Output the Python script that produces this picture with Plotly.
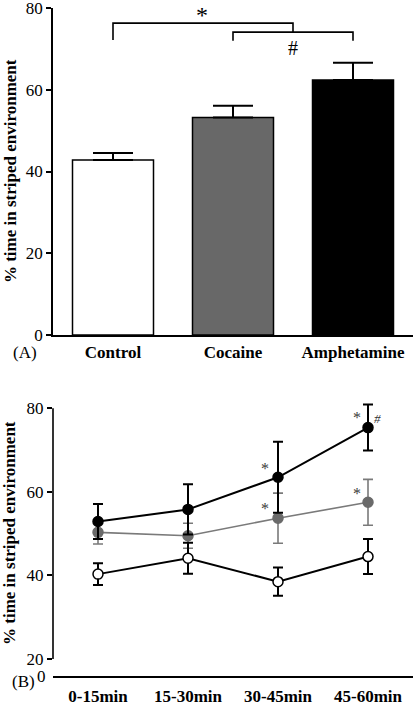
import plotly.graph_objects as go

# ---- Panel A data ----
groups = ["Control", "Cocaine", "Amphetamine"]
pct_mean = [42.8, 53.2, 62.4]
pct_sem = [1.7, 2.9, 4.2]
bar_colors = ["#ffffff", "#686868", "#000000"]

# ---- Panel B data ----
periods = ["0-15min", "15-30min", "30-45min", "45-60min"]
control_mean = [40.3, 44.1, 38.5, 44.5]
control_sem = [2.6, 3.7, 3.4, 4.2]
cocaine_mean = [50.3, 49.5, 53.7, 57.5]
cocaine_sem = [2.8, 3.0, 6.0, 5.5]
amph_mean = [52.9, 55.8, 63.5, 75.4]
amph_sem = [4.2, 6.0, 8.5, 5.5]

yticks_a = [0, 20, 40, 60, 80]
yticks_b = [20, 40, 60, 80]

FONT = "Liberation Serif"
GRAY_LINE = "#7a7a7a"
GRAY_MK = "#6a6a6a"

fig = go.Figure()

# Panel A bars
fig.add_trace(go.Bar(
    x=groups, y=pct_mean, width=0.675,
    marker=dict(color=bar_colors, line=dict(color="black", width=1.5)),
    error_y=dict(type="data", array=pct_sem, arrayminus=[0] * len(pct_sem),
                 symmetric=False, color="black", thickness=2, width=20),
    xaxis="x", yaxis="y", showlegend=False,
))

# Panel B lines
def add_series(mean, sem, line_col, mk_fill, mk_line, lw):
    fig.add_trace(go.Scatter(
        x=periods, y=mean, mode="lines+markers",
        line=dict(color=line_col, width=lw),
        marker=dict(size=10, color=mk_fill, line=dict(color=mk_line, width=1.5)),
        error_y=dict(type="data", array=sem, color=line_col, thickness=lw, width=5),
        xaxis="x2", yaxis="y2", showlegend=False, cliponaxis=False,
    ))

add_series(cocaine_mean, cocaine_sem, GRAY_LINE, GRAY_MK, GRAY_MK, 1.6)
add_series(amph_mean, amph_sem, "black", "black", "black", 2)
add_series(control_mean, control_sem, "black", "white", "black", 2)

# Brackets panel A
brk = dict(type="path", xref="x", yref="y", line=dict(color="black", width=1.6))
fig.add_shape(path="M 0 72.2 L 0 76.3 L 1.5 76.3 L 1.5 74.1", **brk)
fig.add_shape(path="M 1 72.0 L 1 74.1 L 2 74.1 L 2 72.0", **brk)

# y-axis line panel B (broken axis: 20-80)
fig.add_shape(type="line", xref="paper", yref="y2", x0=0, x1=0, y0=20, y1=80,
              line=dict(color="black", width=1.6))

ann = []
ann.append(dict(text="*", x=0.74, y=78.3, xref="x", yref="y", showarrow=False,
                font=dict(family=FONT, size=24, color="black")))
ann.append(dict(text="#", x=1.5, y=70.2, xref="x", yref="y", showarrow=False,
                font=dict(family=FONT, size=20, color="black")))
# panel B stars
for (xx, yy, t) in [
    (1.85, 65.7, "*"),
    (1.85, 55.9, "*"),
    (2.88, 77.7, "*"),
    (2.88, 59.7, "*"),
]:
    ann.append(dict(text=t, x=xx, y=yy, xref="x2", yref="y2", showarrow=False,
                    font=dict(family=FONT, size=16, color="#3a3a3a")))
ann.append(dict(text="<i>#</i>", x=3.1, y=77.6, xref="x2", yref="y2", showarrow=False,
                font=dict(family=FONT, size=13, color="#333333")))
# "0" label of broken axis
ann.append(dict(text="0", x=0, y=15.9, xref="paper", yref="y2", xanchor="right",
                xshift=-5, showarrow=False, font=dict(family=FONT, size=17, color="black")))
# axis titles
for yy in [0.7574, 0.2440]:
    ann.append(dict(text="<b>% time in striped environment</b>", x=-0.1194, y=yy,
                    xref="paper", yref="paper", textangle=-90, showarrow=False,
                    xanchor="center", yanchor="middle",
                    font=dict(family=FONT, size=17, color="black")))
ann.append(dict(text="(A)", x=-0.117, y=0.5007, xref="paper", yref="paper",
                showarrow=False, font=dict(family=FONT, size=17, color="black")))
ann.append(dict(text="(B)", x=-0.119, y=0.017, xref="paper", yref="paper",
                showarrow=False, font=dict(family=FONT, size=17, color="black")))

tickfont = dict(family=FONT, size=17, color="black")
boldfont = dict(family=FONT, size=17, color="black", weight="bold")

common = dict(automargin=False, showgrid=False, zeroline=False,
              ticklabeloverflow="allow")

fig.update_layout(
    width=413, height=705,
    margin=dict(l=53, r=0, t=0, b=0, autoexpand=False),
    paper_bgcolor="white", plot_bgcolor="white",
    font=dict(family=FONT, color="black"),
    annotations=ann,
    xaxis=dict(domain=[0, 1], range=[-0.5, 2.5], anchor="y", showline=True,
               linecolor="black", linewidth=1.6, ticks="",
               tickfont=boldfont, ticklabelstandoff=1, **common),
    yaxis=dict(domain=[0.52482, 0.98865], range=[0, 80], anchor="x",
               tickvals=yticks_a, showline=True, linecolor="black", linewidth=1.6,
               ticks="outside", ticklen=5, tickwidth=1.6, tickcolor="black",
               tickfont=tickfont, **common),
    xaxis2=dict(domain=[0, 1], range=[-0.5, 3.5], anchor="y2", showline=True,
                linecolor="black", linewidth=1.6, ticks="",
                tickfont=boldfont, ticklabelstandoff=4, **common),
    yaxis2=dict(domain=[0.04113, 0.43262], range=[15.9, 82], anchor="x2",
                tickvals=yticks_b, showline=False, ticks="outside", ticklen=5,
                tickwidth=1.6, tickcolor="black", tickfont=tickfont, **common),
)

fig.write_html("out.html",
               config={"displayModeBar": False},
               post_script="document.body.style.margin='0';document.body.style.overflow='hidden';")
